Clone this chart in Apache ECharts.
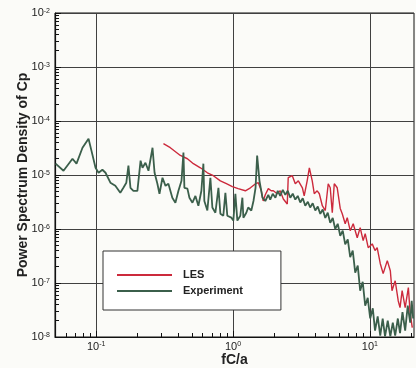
<!DOCTYPE html>
<html>
<head>
<meta charset="utf-8">
<script src="https://cdn.jsdelivr.net/npm/echarts@6/dist/echarts.min.js"></script>
<style>
  html, body { margin: 0; padding: 0; background: #fbfbf8; }
  #chart { width: 416px; height: 368px; }
</style>
</head>
<body>
<div id="chart"></div>
<script>
// decade ticks and minor (2..9) ticks
const xMajor = [0.1, 1, 10];
const xMinor = [0.06, 0.07, 0.08, 0.09, 0.2, 0.3, 0.4, 0.5, 0.6, 0.7, 0.8, 0.9,
  2, 3, 4, 5, 6, 7, 8, 9, 20];
const yMajor = [1e-8, 1e-7, 1e-6, 1e-5, 1e-4, 1e-3, 1e-2];
const yMinor = [
  2e-8, 3e-8, 4e-8, 5e-8, 6e-8, 7e-8, 8e-8, 9e-8,
  2e-7, 3e-7, 4e-7, 5e-7, 6e-7, 7e-7, 8e-7, 9e-7,
  2e-6, 3e-6, 4e-6, 5e-6, 6e-6, 7e-6, 8e-6, 9e-6,
  2e-5, 3e-5, 4e-5, 5e-5, 6e-5, 7e-5, 8e-5, 9e-5,
  2e-4, 3e-4, 4e-4, 5e-4, 6e-4, 7e-4, 8e-4, 9e-4,
  2e-3, 3e-3, 4e-3, 5e-3, 6e-3, 7e-3, 8e-3, 9e-3
];

// Experiment (fC/a, PSD)
const expFreq = [
  0.0505, 0.0577, 0.0671, 0.0718, 0.0794, 0.0879, 0.0924, 0.0989, 0.104, 0.111,
  0.117, 0.127, 0.138, 0.150, 0.158, 0.166, 0.172, 0.178, 0.187, 0.200,
  0.211, 0.218, 0.229, 0.241, 0.258, 0.267, 0.280, 0.290, 0.305, 0.321,
  0.337, 0.360, 0.379, 0.399, 0.420, 0.434, 0.441, 0.464, 0.480, 0.505,
  0.531, 0.558, 0.587, 0.607, 0.617, 0.649, 0.683, 0.706, 0.743, 0.782,
  0.808, 0.849, 0.879, 0.908, 0.972, 1.005, 1.04, 1.075, 1.13, 1.17,
  1.19, 1.25, 1.29, 1.36, 1.41, 1.46, 1.50, 1.56, 1.64, 1.72,
  1.81, 1.87, 1.95, 2.04, 2.12, 2.21, 2.31, 2.41, 2.51, 2.62,
  2.73, 2.85, 2.97, 3.10, 3.23, 3.37, 3.52, 3.66, 3.82, 3.99,
  4.16, 4.34, 4.52, 4.72, 4.92, 5.13, 5.35, 5.58, 5.82, 6.07,
  6.33, 6.60, 6.89, 7.18, 7.49, 7.81, 8.15, 8.49, 8.86, 9.24,
  9.64, 10.05, 10.5, 10.9, 11.4, 11.9, 12.4, 12.9, 13.5, 14.1,
  14.7, 15.3, 16.0, 16.6, 17.3, 18.1, 18.9, 19.7, 20.2, 20.7
];
const expPsd = [
  1.62e-5, 1.2e-5, 2.0e-5, 1.62e-5, 3.2e-5, 4.7e-5, 2.8e-5, 1.36e-5, 1.1e-5, 1.25e-5,
  1.1e-5, 7.2e-6, 6.3e-6, 4.7e-6, 5.8e-6, 7.2e-6, 1.49e-5, 5.8e-6, 5.1e-6, 5.1e-6,
  1.84e-5, 1.36e-5, 1.69e-5, 1.2e-5, 3.2e-5, 1.1e-5, 6.9e-6, 4.5e-6, 8.9e-6, 6.3e-6,
  6.9e-6, 3.8e-6, 3.07e-6, 5.1e-6, 7.8e-6, 2.6e-5, 5.8e-6, 5.6e-6, 3.8e-6, 3.07e-6,
  4.1e-6, 2.7e-6, 5.1e-6, 1.62e-5, 3.3e-6, 2.2e-6, 8.9e-6, 2.5e-6, 2.0e-6, 5.8e-6,
  1.92e-6, 1.76e-6, 4.7e-6, 1.76e-6, 1.62e-6, 1.43e-6, 4.5e-6, 1.43e-6, 1.76e-6, 3.8e-6,
  1.62e-6, 2.0e-6, 2.5e-6, 2.2e-6, 3.3e-6, 5.8e-6, 2.3e-5, 7.8e-6, 3.8e-6, 3.3e-6,
  4.3e-6, 3.5e-6, 4.5e-6, 3.8e-6, 5.1e-6, 4.1e-6, 5.3e-6, 4.3e-6, 5.1e-6, 3.8e-6,
  4.5e-6, 3.5e-6, 4.1e-6, 3.1e-6, 3.7e-6, 2.7e-6, 3.2e-6, 2.5e-6, 3.0e-6, 2.2e-6,
  2.6e-6, 1.9e-6, 2.3e-6, 1.6e-6, 2.0e-6, 1.3e-6, 1.6e-6, 1.0e-6, 1.25e-6, 7.5e-7,
  9.3e-7, 5.2e-7, 6.4e-7, 3.0e-7, 4.0e-7, 1.55e-7, 2.1e-7, 7.2e-8, 1.05e-7, 3.8e-8,
  5.3e-8, 2.2e-8, 3.4e-8, 1.31e-8, 2.4e-8, 1.06e-8, 2.2e-8, 1.03e-8, 2.0e-8, 1.03e-8,
  1.85e-8, 1.06e-8, 2.2e-8, 1.18e-8, 2.9e-8, 1.31e-8, 3.8e-8, 1.85e-8, 4.7e-8, 2.2e-8
];

// LES (fC/a, PSD)
const lesFreq = [
  0.310, 0.348, 0.412, 0.464, 0.513, 0.577, 0.649, 0.718, 0.808, 0.894,
  0.988, 1.09, 1.23, 1.34, 1.46, 1.53, 1.61, 1.66, 1.72, 1.81,
  1.90, 1.97, 2.10, 2.21, 2.33, 2.49, 2.53, 2.71, 2.85, 3.00,
  3.21, 3.31, 3.48, 3.61, 3.79, 3.92, 4.12, 4.27, 4.49, 4.72,
  4.96, 5.13, 5.31, 5.49, 5.77, 6.07, 6.28, 6.60, 6.83, 7.18,
  7.55, 8.08, 8.49, 8.93, 9.24, 9.72, 10.4, 10.9, 11.3, 11.9,
  12.5, 13.4, 14.1, 14.5, 15.3, 16.1, 16.6, 17.2, 18.1, 19.1,
  19.7, 20.4
];
const lesPsd = [
  3.8e-5, 3.2e-5, 2.3e-5, 2.0e-5, 1.62e-5, 1.36e-5, 1.1e-5, 9.7e-6, 7.8e-6, 6.9e-6,
  6.1e-6, 5.6e-6, 5.1e-6, 5.8e-6, 6.9e-6, 7.2e-6, 5.1e-6, 3.3e-6, 4.3e-6, 5.6e-6,
  5.1e-6, 5.1e-6, 4.5e-6, 5.1e-6, 3.6e-6, 2.9e-6, 8.9e-6, 9.7e-6, 6.9e-6, 7.8e-6,
  5.8e-6, 4.1e-6, 7.8e-6, 1.36e-5, 7.8e-6, 4.5e-6, 5.1e-6, 4.5e-6, 2.7e-6, 2.2e-6,
  6.9e-6, 5.8e-6, 2.0e-6, 6.9e-6, 5.8e-6, 2.4e-6, 1.92e-6, 1.25e-6, 1.62e-6, 9.3e-7,
  1.25e-6, 6.9e-7, 1.06e-6, 6.1e-7, 8.2e-7, 4.5e-7, 5.3e-7, 4.0e-7, 4.5e-7, 2.3e-7,
  1.49e-7, 2.6e-7, 1.69e-7, 7.2e-8, 1.1e-7, 4.7e-8, 3.5e-8, 7.2e-8, 3.5e-8, 8.2e-8,
  2.7e-8, 1.49e-8
];

const font = '"Liberation Sans", Arial, sans-serif';
const xMin = 0.05, xMax = 21;
const yMin = 1e-8, yMax = 1e-2;

const powLabel = v => '{b|10}{s|' + Math.round(Math.log10(v)) + '}';
const powRich = {
  b: { fontSize: 11, color: '#222', fontFamily: font },
  s: { fontSize: 7, color: '#222', fontFamily: font, verticalAlign: 'top', lineHeight: 8 }
};

const chart = echarts.init(document.getElementById('chart'));

chart.setOption({
  backgroundColor: '#fbfbf8',
  animation: false,
  grid: {
    left: 55, right: 2, top: 13, bottom: 31,
    outerBoundsMode: 'none',
    show: true, borderColor: '#111', borderWidth: 1, backgroundColor: 'transparent'
  },
  legend: {
    left: 103, top: 251,
    orient: 'vertical',
    icon: 'rect',
    itemWidth: 55, itemHeight: 2, itemGap: 2,
    padding: [17, 38, 12, 14],
    backgroundColor: '#ffffff',
    borderColor: '#333', borderWidth: 1,
    textStyle: { fontFamily: font, fontSize: 11, lineHeight: 14, fontWeight: 'bold', color: '#222', padding: [0, 0, 0, 6] },
    data: ['LES', 'Experiment']
  },
  xAxis: [
    {
      type: 'log', min: xMin, max: xMax,
      name: 'fC/a', nameLocation: 'middle', nameGap: 16, nameMoveOverlap: false,
      nameTextStyle: { fontFamily: font, fontSize: 14, fontWeight: 'bold', color: '#222' },
      axisLine: { onZero: false, lineStyle: { color: '#111', width: 1.2 } },
      axisTick: { inside: true, length: 6, customValues: xMajor, lineStyle: { color: '#111' } },
      axisLabel: { customValues: xMajor, formatter: powLabel, rich: powRich, margin: 4 },
      splitLine: { show: true, lineStyle: { color: '#404040', width: 1 } }
    },
    {
      type: 'log', min: xMin, max: xMax, position: 'bottom',
      axisLine: { show: false },
      axisTick: { inside: true, length: 4, customValues: xMinor, lineStyle: { color: '#111' } },
      axisLabel: { show: false },
      splitLine: { show: false }
    }
  ],
  yAxis: [
    {
      type: 'log', min: yMin, max: yMax,
      name: 'Power Spectrum Density of Cp', nameLocation: 'middle', nameGap: 25, nameMoveOverlap: false,
      nameTextStyle: { fontFamily: font, fontSize: 14, fontWeight: 'bold', color: '#222' },
      axisLine: { onZero: false, lineStyle: { color: '#111', width: 1.2 } },
      axisTick: { inside: true, length: 6, customValues: yMajor, lineStyle: { color: '#111' } },
      axisLabel: { customValues: yMajor, formatter: powLabel, rich: powRich, margin: 5 },
      splitLine: { show: true, lineStyle: { color: '#404040', width: 1 } }
    },
    {
      type: 'log', min: yMin, max: yMax, position: 'left',
      axisLine: { show: false },
      axisTick: { inside: true, length: 4, customValues: yMinor, lineStyle: { color: '#111' } },
      axisLabel: { show: false },
      splitLine: { show: false }
    }
  ],
  series: [
    {
      name: 'LES',
      type: 'line',
      symbol: 'none',
      z: 2,
      lineStyle: { color: '#cc2a3c', width: 1.4 },
      itemStyle: { color: '#cc2a3c' },
      data: lesFreq.map((f, i) => [f, lesPsd[i]])
    },
    {
      name: 'Experiment',
      type: 'line',
      symbol: 'none',
      z: 3,
      lineStyle: { color: '#3b5f4b', width: 1.8 },
      itemStyle: { color: '#3b5f4b' },
      data: expFreq.map((f, i) => [f, expPsd[i]])
    }
  ]
});
</script>
</body>
</html>
